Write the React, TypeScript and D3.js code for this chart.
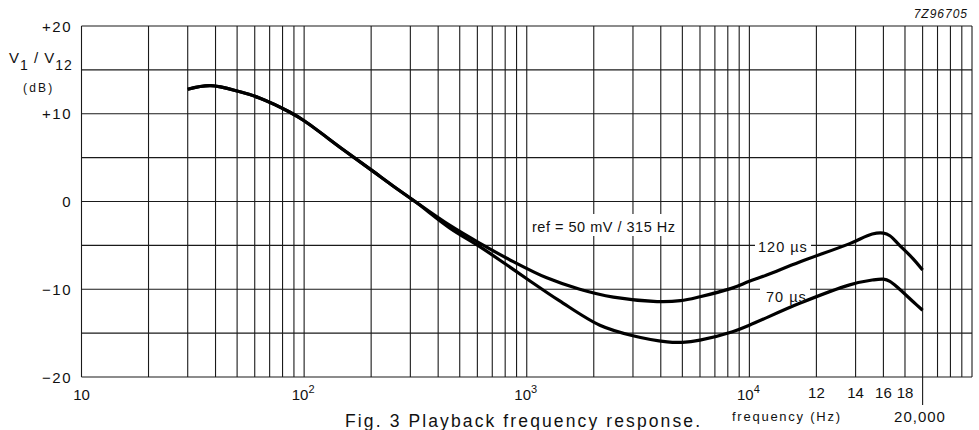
import React from 'react'
import * as d3 from 'd3'

// shared part of the response (both de-emphasis settings), Hz / dB
const freqShared = [30, 38, 51.5, 63, 86, 100, 150, 200, 250, 315]
const dbShared = [12.8, 13.2, 12.5, 11.8, 10.2, 9.2, 5.9, 3.6, 1.8, 0]

// 120 us branch
const freq120 = [450, 620, 870, 1230, 1730, 2450, 3850, 4900, 6000, 8300, 10000, 10500, 11500, 13700, 15200, 16000, 16600, 17500, 18900, 20000]
const db120 = [-2.7, -4.8, -6.85, -8.7, -10.0, -10.9, -11.4, -11.3, -10.85, -9.9, -9.1, -8.4, -6.9, -4.8, -3.7, -3.6, -3.9, -5.0, -6.5, -7.8]

// 70 us branch
const freq70 = [450, 620, 800, 1000, 1400, 2130, 3000, 4270, 5000, 6000, 8400, 10000, 11500, 13700, 15200, 16000, 16600, 17500, 18900, 20000]
const db70 = [-3.0, -5.2, -7.1, -8.8, -11.3, -14.1, -15.3, -16.0, -16.05, -15.8, -14.85, -14.1, -11.6, -9.5, -8.95, -8.85, -9.1, -10.0, -11.4, -12.4]

const yTicks = [20, 10, 0, -10, -20]
const yTickLabels = ['+20', '+10', '0', '\u221210', '\u221220']
const decadeTicks = [10, 100, 1000, 10000]
const decadeExp = ['', '2', '3', '4']
const kHzTicks = [12000, 14000, 16000, 18000]
const kHzLabels = ['12', '14', '16', '18']
// grid positions the kHz labels sit on (the grid keeps going as a log grid)
const kHzGrid = [10000, 20000, 30000, 40000, 50000, 60000]
const kHzDomain = [10000, 12000, 14000, 16000, 18000, 20000]

const W = 979,
	H = 430
const left = 81.5,
	right = 972,
	top = 26,
	bottom = 377

const font = '"Liberation Sans", Arial, sans-serif'

const App = () => {
	const xLog = d3.scaleLog().domain([10, 1e5]).range([left, right])
	const xHi = d3
		.scaleLinear()
		.domain(kHzDomain)
		.range(kHzGrid.map((g) => xLog(g)))
	const x = (f: number) => (f <= 10000 ? xLog(f) : xHi(f))
	const y = d3.scaleLinear().domain([-20, 20]).range([bottom, top])

	const line = d3
		.line<[number, number]>()
		.x((d) => x(d[0]))
		.y((d) => y(d[1]))
		.curve(d3.curveCatmullRom.alpha(0.5))

	const shared = freqShared.map((f, i) => [f, dbShared[i]] as [number, number])
	const s120 = shared.concat(freq120.map((f, i) => [f, db120[i]] as [number, number]))
	const s70 = shared.concat(freq70.map((f, i) => [f, db70[i]] as [number, number]))

	const vGrid = xLog.ticks()
	const hGrid = d3.range(-20, 21, 5)

	return (
		<svg
			width={W}
			height={H}
			style={{ position: 'absolute', left: 0, top: 0, background: '#fff' }}
			fontFamily={font}
			fill="#111"
		>
			{/* grid */}
			<g stroke="#1a1a1a" strokeWidth={1.1}>
				{vGrid.map((v) => (
					<line key={'v' + v} x1={xLog(v)} x2={xLog(v)} y1={top} y2={bottom} />
				))}
				{hGrid.map((v) => (
					<line key={'h' + v} x1={left} x2={right} y1={y(v)} y2={y(v)} />
				))}
				<line x1={x(20000)} x2={x(20000)} y1={bottom} y2={405} />
			</g>

			{/* masks behind the in-plot labels */}
			<rect x={528} y={214} width={152} height={22} fill="#fff" />
			<rect x={755} y={239} width={56} height={17} fill="#fff" />
			<rect x={760} y={287} width={50} height={18} fill="#fff" />

			{/* curves */}
			<path d={line(s120) ?? ''} fill="none" stroke="#000" strokeWidth={3.2} />
			<path d={line(s70) ?? ''} fill="none" stroke="#000" strokeWidth={3.2} />

			{/* y axis */}
			{yTicks.map((t, i) => (
				<text
					key={t}
					x={72}
					y={y(t)}
					textAnchor="end"
					dominantBaseline="central"
					fontSize={15}
					letterSpacing={1.5}
				>
					{yTickLabels[i]}
				</text>
			))}
			<text x={9} y={63} fontSize={15} letterSpacing={1}>
				V<tspan fontSize={14} dy={7}>1</tspan>
				<tspan dy={-7}> / V</tspan>
				<tspan fontSize={14} dy={7}>12</tspan>
			</text>
			<text x={23} y={92} fontSize={12} letterSpacing={2.2}>
				(dB)
			</text>

			{/* x axis */}
			{decadeTicks.map((t, i) => (
				<text key={t} x={xLog(t) + (i ? -1 : 0)} y={400} textAnchor="middle" fontSize={15}>
					10
					{decadeExp[i] && (
						<tspan fontSize={11} dy={-7}>
							{decadeExp[i]}
						</tspan>
					)}
				</text>
			))}
			{kHzTicks.map((t, i) => (
				<text key={t} x={x(t)} y={398} textAnchor="middle" fontSize={15}>
					{kHzLabels[i]}
				</text>
			))}
			<text x={920} y={422} textAnchor="middle" fontSize={15} letterSpacing={1}>
				20,000
			</text>
			<text x={732} y={421} fontSize={13} textLength={108} lengthAdjust="spacing">
				frequency  (Hz)
			</text>
			<text x={345} y={427} fontSize={17.5} textLength={355} lengthAdjust="spacing">
				Fig. 3 Playback frequency response.
			</text>

			{/* annotations */}
			<text x={532} y={232} fontSize={14.5} textLength={143} lengthAdjust="spacing">
				ref = 50 mV / 315 Hz
			</text>
			<text x={758} y={252} fontSize={14.5} letterSpacing={1}>
				120 {'\u00b5'}s
			</text>
			<text x={766} y={302} fontSize={14.5} letterSpacing={1}>
				70 {'\u00b5'}s
			</text>
			<text x={968} y={18} textAnchor="end" fontSize={12} fontStyle="italic" letterSpacing={1}>
				7Z96705
			</text>
		</svg>
	)
}

export default App
